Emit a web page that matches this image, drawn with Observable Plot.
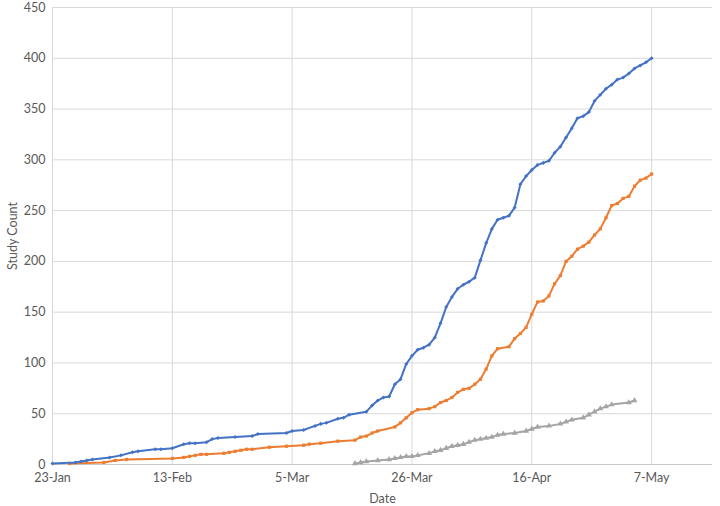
<!DOCTYPE html>
<html><head><meta charset="utf-8">
<script src="https://cdn.jsdelivr.net/npm/d3@7"></script>
<script src="https://cdn.jsdelivr.net/npm/@observablehq/plot@0.6"></script>
<style>body{margin:0;background:#fff;} #chart svg{display:block;}</style>
</head><body><div id="chart"></div>
<script>
// Series 1 (blue)
const blueDates = ["01-23","01-27","01-28","01-29","01-30","02-02","02-04","02-06","02-07","02-10","02-11","02-13","02-15","02-16","02-17","02-19","02-20","02-21","02-24","02-27","02-28","03-04","03-05","03-07","03-09","03-10","03-11","03-13","03-14","03-15",
"03-18","03-19","03-20","03-21","03-22","03-23","03-24","03-25","03-26","03-27","03-28","03-29","03-30","03-31",
"04-01","04-02","04-03","04-04","04-05","04-06","04-07","04-08","04-09","04-10","04-11","04-12","04-13","04-14","04-15","04-16","04-17","04-18","04-19","04-20","04-21","04-22","04-23","04-24","04-25","04-26","04-27","04-28","04-29","04-30",
"05-01","05-02","05-03","05-04","05-05","05-06","05-07"];
const blueValues = [1,2,3,4,5,7,9,12,13,15,15,16,20,21,21,22,25,26,27,28,30,31,33,34,38,40,41,45,46,49,
52,58,63,66,67,79,84,99,107,113,115,118,125,139,
155,165,173,177,180,184,201,218,232,241,243,245,253,276,284,290,295,297,299,307,313,322,331,341,343,347,358,364,370,374,
379,381,385,390,393,396,400];

// Series 2 (orange)
const orangeDates = ["01-26","02-01","02-03","02-05","02-13","02-15","02-16","02-17","02-18","02-19","02-22","02-23","02-24","02-25","02-26","02-27","03-01","03-04","03-07","03-08","03-10","03-13","03-16","03-17","03-18","03-19","03-20","03-23","03-24","03-25","03-26","03-27","03-29","03-30","03-31",
"04-01","04-02","04-03","04-04","04-05","04-06","04-07","04-08","04-09","04-10","04-12","04-13","04-14","04-15","04-16","04-17","04-18","04-19","04-20","04-21","04-22","04-23","04-24","04-25","04-26","04-27","04-28","04-29","04-30",
"05-01","05-02","05-03","05-04","05-05","05-06","05-07"];
const orangeValues = [1,2,4,5,6,7,8,9,10,10,11,12,13,14,15,15,17,18,19,20,21,23,24,27,28,31,33,37,41,46,51,54,55,57,61,
63,66,71,74,75,79,84,94,107,114,116,124,129,135,148,160,161,166,178,186,200,205,212,215,219,226,232,243,255,
257,262,264,274,280,282,286];

// Series 3 (grey)
const greyDates = ["03-16","03-17","03-18","03-20","03-22","03-23","03-24","03-25","03-26","03-27","03-29","03-30","03-31",
"04-01","04-02","04-03","04-04","04-05","04-06","04-07","04-08","04-09","04-10","04-11","04-13","04-15","04-16","04-17","04-19","04-21","04-22","04-23","04-25","04-26","04-27","04-28","04-29","04-30",
"05-03","05-04"];
const greyValues = [1,2,3,4,5,6,7,8,8,9,11,13,14,
16,18,19,20,22,24,25,26,27,29,30,31,33,35,37,38,40,42,44,46,49,52,55,57,59,
61,63];

const xTickLabels = ["01-23","02-13","03-05","03-26","04-16","05-07"];
const yTicks = [0,50,100,150,200,250,300,350,400,450];
const xDomain = ["2020-01-23T00:00Z","2020-05-17T16:00Z"];

const colors = {blue:"#4472C4", orange:"#ED7D31", grey:"#A5A5A5"};
const toDate = s => new Date("2020-" + s + "T00:00:00Z");
const rows = (dates, values) => dates.map((d, i) => ({date: toDate(d), value: values[i]}));
const blue = rows(blueDates, blueValues);
const orange = rows(orangeDates, orangeValues);
const grey = rows(greyDates, greyValues);
const xTicks = xTickLabels.map(toDate);

const chart = Plot.plot({
  width: 720, height: 506,
  marginLeft: 52, marginRight: 8, marginTop: 7, marginBottom: 42,
  style: {fontFamily: "Lato, 'Open Sans', sans-serif", fontSize: "12px", color: "#595959", background: "#fff"},
  x: {type: "utc", domain: xDomain.map(d => new Date(d))},
  y: {domain: [0, 450]},
  marks: [
    Plot.gridX(xTicks, {stroke: "#d9d9d9", strokeOpacity: 1}),
    Plot.gridY(yTicks, {stroke: "#d9d9d9", strokeOpacity: 1}),
    Plot.ruleY([0], {stroke: "#c8c8c8"}),
    Plot.axisX(xTicks, {tickSize: 0, tickPadding: 9, tickFormat: d3.utcFormat("%-d-%b"), label: "Date", labelAnchor: "center", labelOffset: 38, labelArrow: "none", fontSize: 12.5}),
    Plot.axisY(yTicks, {tickSize: 0, tickPadding: 7, label: "Study Count", labelAnchor: "center", labelOffset: 44, labelArrow: "none", fontSize: 12.5}),
    Plot.lineY(grey, {x: "date", y: "value", stroke: colors.grey, strokeWidth: 2}),
    Plot.dot(grey, {x: "date", y: "value", fill: colors.grey, symbol: "triangle", r: 2.2}),
    Plot.lineY(orange, {x: "date", y: "value", stroke: colors.orange, strokeWidth: 2}),
    Plot.dot(orange, {x: "date", y: "value", fill: colors.orange, symbol: "square", r: 1.8}),
    Plot.lineY(blue, {x: "date", y: "value", stroke: colors.blue, strokeWidth: 2}),
    Plot.dot(blue, {x: "date", y: "value", fill: colors.blue, symbol: "square", r: 1.6, rotate: 45})
  ]
});
document.getElementById("chart").appendChild(chart);
</script>
</body></html>
